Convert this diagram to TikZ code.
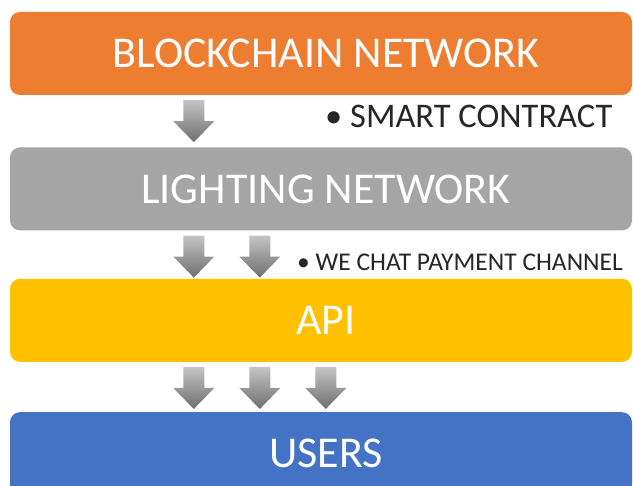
\documentclass[tikz,border=0pt]{standalone}
\usepackage{fontspec}
\setmainfont{Carlito}
\usetikzlibrary{positioning}

\definecolor{chainorange}{HTML}{ED7D31}
\definecolor{lightgray}{HTML}{A5A5A5}
\definecolor{apiyellow}{HTML}{FFC000}
\definecolor{userblue}{HTML}{4472C4}
\definecolor{notegray}{HTML}{262626}
\definecolor{arrowlight}{HTML}{C4C4C4}
\definecolor{arrowdark}{HTML}{6E6E6E}

\tikzset{
  layer/.style={rounded corners=10pt, minimum width=622pt, minimum height=83pt,
    inner sep=0pt, text=white, font=\fontsize{44}{44}\selectfont,
    execute at begin node=\hspace*{10pt}},
  note/.style={anchor=west, inner sep=0pt, text=notegray},
}

% block arrow hanging below a layer, #1 = layer, #2 = offset from its left side
\newcommand{\blockarrow}[2]{%
  \shade[top color=arrowlight, bottom color=arrowdark, shift={(#1.south west)}, xshift=#2]
    (-10.5,5) -- (10.5,5) -- (10.5,26) -- (20.5,26) -- (0,47) -- (-20.5,26) -- (-10.5,26) -- cycle;}

\begin{document}
\begin{tikzpicture}[x=1pt,y=-1pt]
  \useasboundingbox (0,0) rectangle (633,486);
  \clip (0,0) rectangle (633,486);

  \node[layer, fill=chainorange] (chain) at (321,53.5) {BLOCKCHAIN NETWORK};
  \node[layer, fill=lightgray, below=52pt of chain] (lighting) {LIGHTING NETWORK};
  \node[layer, fill=apiyellow, below=48pt of lighting] (api) {API};
  \node[layer, fill=userblue, below=50pt of api] (users) {USERS};

  \node[note, font=\fontsize{34.5}{35}\selectfont] (contract) at (325,116) {\textbullet\ SMART CONTRACT};
  \node[note, font=\fontsize{25.5}{26}\selectfont] (wechat) at (297,262) {\textbullet\ WE CHAT PAYMENT CHANNEL};

  \blockarrow{chain}{184}
  \foreach \dx in {184,250} {\blockarrow{lighting}{\dx}}
  \foreach \dx in {184,250,316} {\blockarrow{api}{\dx}}
\end{tikzpicture}
\end{document}
